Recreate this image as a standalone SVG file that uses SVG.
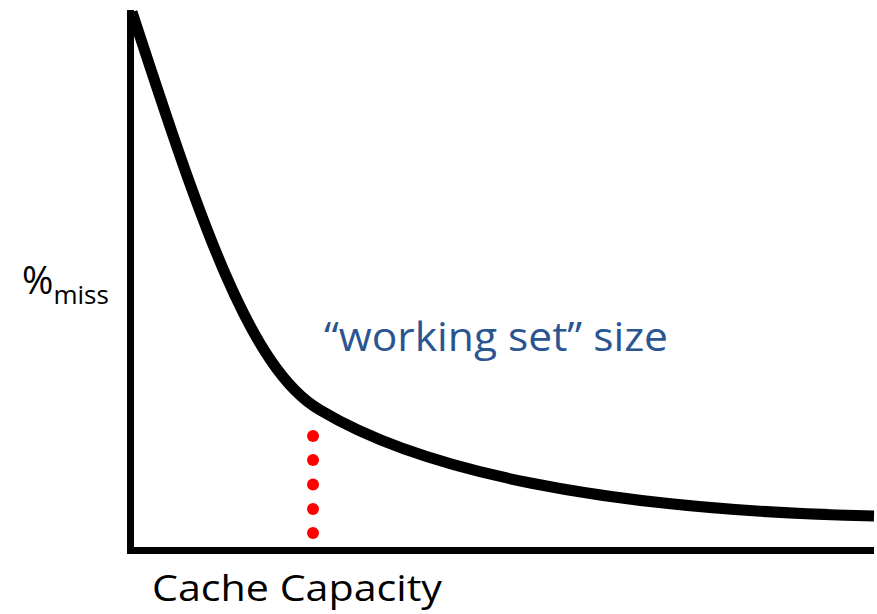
<svg xmlns="http://www.w3.org/2000/svg" width="877" height="614" viewBox="0 0 877 614">
<style>
.ax{stroke:#000;stroke-width:7;fill:none}
.curve{stroke:#000;stroke-width:11;fill:none;stroke-linecap:butt}
.dot{fill:#ff0000}
.lbl{font-family:"Open Sans","Liberation Sans",sans-serif;fill:#000}
.note{font-family:"Open Sans","Liberation Sans",sans-serif;fill:#2a5590}
</style>
<rect width="877" height="614" fill="#fff"/>
<g id="axes">
<path class="ax" d="M130.5 10 V550.5 H874"/>
</g>
<g id="curve">
<path class="curve" d="M132 12 C200 220 250 370 320 410 C420 470 600 510 874 516"/>
</g>
<g id="marker">
<circle class="dot" cx="313" cy="436" r="6"/>
<circle class="dot" cx="313" cy="460" r="6"/>
<circle class="dot" cx="313" cy="484.5" r="6"/>
<circle class="dot" cx="313" cy="509" r="6"/>
<circle class="dot" cx="313" cy="533" r="6"/>
</g>
<g id="ylabel">
<text class="lbl" x="22" y="294" font-size="38">%<tspan font-size="26" dy="10">miss</tspan></text>
</g>
<g id="xlabel">
<text class="lbl" x="152" y="601" font-size="36" textLength="290" lengthAdjust="spacingAndGlyphs">Cache Capacity</text>
</g>
<g id="note">
<text class="note" x="324" y="351" font-size="40" textLength="344" lengthAdjust="spacingAndGlyphs">“working set” size</text>
</g>
</svg>
